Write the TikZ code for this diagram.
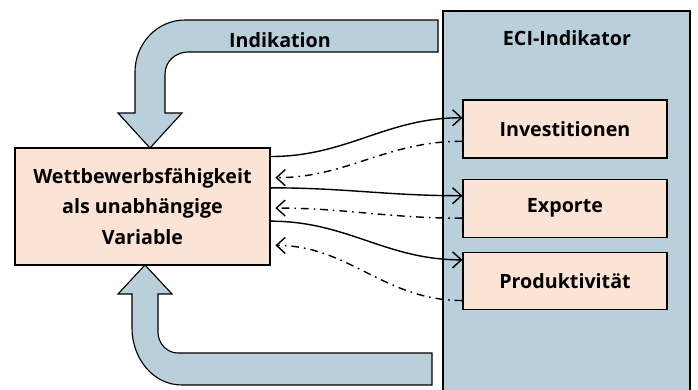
\documentclass[tikz,border=0pt]{standalone}
\usepackage{fontspec}
\setmainfont{Open Sans}
\usetikzlibrary{positioning}
\usetikzlibrary{calc}
\usetikzlibrary{arrows.meta}
\definecolor{mblue}{RGB}{185,207,218}
\definecolor{mpeach}{RGB}{251,227,214}

\begin{document}
\begin{tikzpicture}[x=0.025cm, y=-0.025cm,
    label/.style={font=\bfseries\fontsize{14}{22}\selectfont, align=center},
    box/.style={label, draw, thick, fill=mpeach, inner sep=0pt},
    factor/.style={box, minimum width=5.1cm, minimum height=1.45cm},
    bigarrow/.style={draw, thick, fill=mblue},
    arrow/.style={-{Straight Barb[length=2.2mm,width=4mm]}, line width=1pt},
    back/.style={arrow, dash pattern=on 5.5pt off 3.5pt on 1.2pt off 3.5pt, shorten >=.12cm},
]
    \useasboundingbox (0,0) rectangle (698,389);

    \node[draw, thick, fill=mblue, minimum width=6.175cm, minimum height=9.7cm] (eci) at (566.5,205) {};
    \node[label] (ecititle) at (567,38) {ECI-Indikator};

    \node[factor] (invest) at (565,129) {Investitionen};
    \node[factor, below=0.5cm of invest] (export) {Exporte};
    \node[factor, below=0.35cm of export, minimum height=1.425cm] (produkt) {Produktivität};

    \node[box, minimum width=6.375cm, minimum height=2.925cm] (wett) at (142.5,206.5)
        {Wettbewerbsfähigkeit\\als unabhängige\\Variable};

    \draw[bigarrow] (438,20) -- (185,20) to[out=180,in=90] (135,72) -- (135,113) -- (118,113)
        -- (150,148) -- (182,113) -- (165,113) -- (165,74) to[out=90,in=180] (188,52) -- (438,52) -- cycle;
    \node[label] (indikation) at (280,40) {Indikation};

    \draw[bigarrow] (432,353) -- (178,353) to[out=180,in=-90] (158,332) -- (158,294) -- (172,294)
        -- (145,265) -- (118,294) -- (132,294) -- (132,328) to[out=-90,in=180] (182,385) -- (432,385) -- cycle;

    \draw[arrow] ($(wett.north east)!0.077!(wett.south east)$) to[out=0,in=180] ($(invest.north west)!0.31!(invest.south west)$);
    \draw[back] ($(invest.north west)!0.707!(invest.south west)$) to[out=180,in=0] ($(wett.north east)!0.256!(wett.south east)$);
    \draw[arrow] ($(wett.north east)!0.342!(wett.south east)$) to[out=0,in=180] ($(export.north west)!0.29!(export.south west)$);
    \draw[back] ($(export.north west)!0.67!(export.south west)$) to[out=180,in=0] ($(wett.north east)!0.513!(wett.south east)$);
    \draw[arrow] ($(wett.north east)!0.624!(wett.south east)$) to[out=0,in=180] ($(produkt.north west)!0.14!(produkt.south west)$);
    \draw[back] ($(produkt.north west)!0.84!(produkt.south west)$) to[out=180,in=0] ($(wett.north east)!0.829!(wett.south east)$);

\end{tikzpicture}
\end{document}
